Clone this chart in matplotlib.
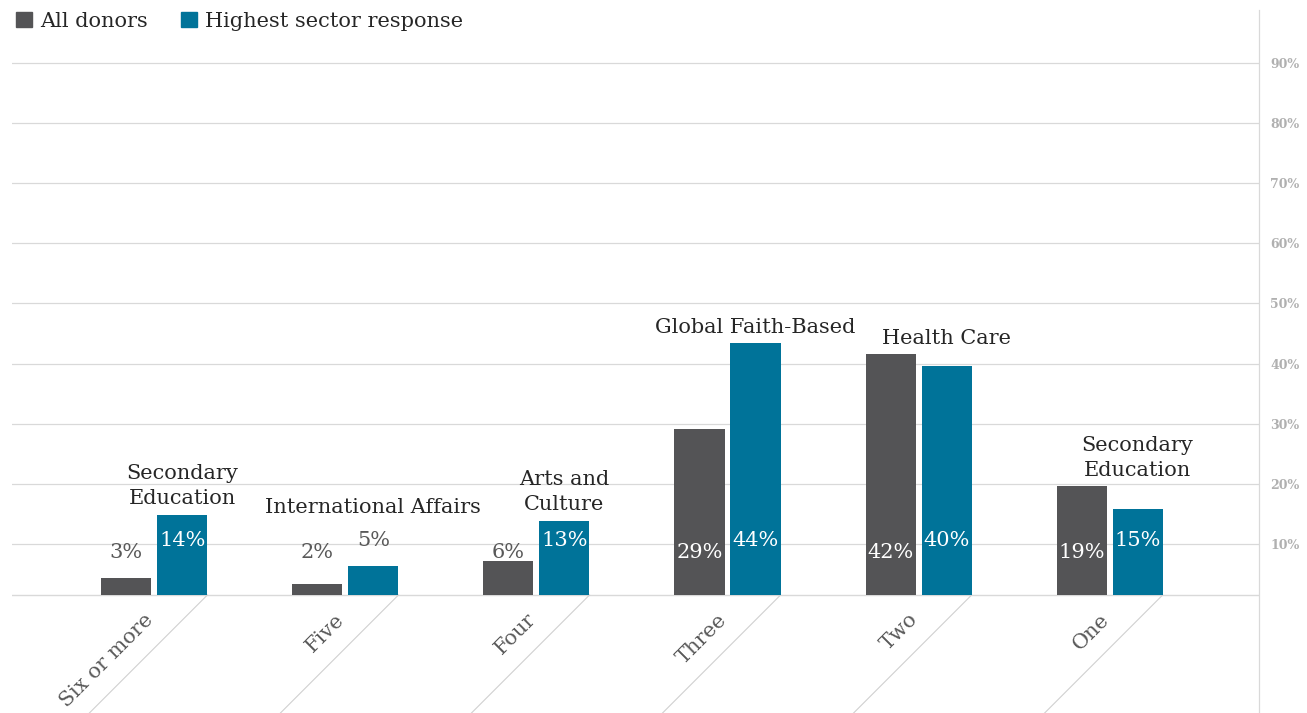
import numpy as np
import matplotlib
matplotlib.use("Agg")
import matplotlib.pyplot as plt
from matplotlib.patches import Patch

plt.rcParams['font.family'] = ['DejaVu Serif']

categories = ["Six or more", "Five", "Four", "Three", "Two", "One"]
all_donors = [3, 2, 6, 29, 42, 19]
highest_sector = [14, 5, 13, 44, 40, 15]
sectors = ["Secondary\nEducation", "International Affairs", "Arts and\nCulture",
           "Global Faith-Based", "Health Care", "Secondary\nEducation"]
grid_ticks = [10, 20, 30, 40, 50, 60, 70, 80, 90]

gray = "#545456"
blue = "#007399"
grid_col = "#d9d9d9"

fig = plt.figure(figsize=(13.07, 7.13), dpi=100)
ax = fig.add_axes([12 / 1307, 0, 1247 / 1307, 703 / 713])
ax2 = ax.twinx()

x = np.arange(len(categories))
w = 0.262
off = 0.1466

ax.set_xlim(-0.745, 5.782)
ax.set_ylim(-20.59, 102.09)
ax2.set_ylim(-18.02, 98.75)

# percent scale on the right with its gridlines
ax2.set_yticks(grid_ticks)
ax2.set_yticklabels([f"{t}%" for t in grid_ticks])
ax2.tick_params(axis='y', length=0, pad=8, labelsize=9, labelcolor="#b0b0b0")
for lab in ax2.get_yticklabels():
    lab.set_fontweight('bold')
for t in grid_ticks:
    ax2.axhline(t, color=grid_col, lw=0.9, zorder=0)
for s in ["top", "left", "bottom"]:
    ax2.spines[s].set_visible(False)
ax2.spines["right"].set_color(grid_col)
ax2.spines["right"].set_linewidth(0.9)

ax.set_zorder(ax2.get_zorder() + 1)
ax.patch.set_visible(False)
for s in ax.spines.values():
    s.set_visible(False)
ax.set_xticks([])
ax.set_yticks([])
ax.axhline(0, color=grid_col, lw=1.0, zorder=1)

ax.bar(x - off, all_donors, w, color=gray, zorder=2)
ax.bar(x + off, highest_sector, w, color=blue, zorder=2)

# value labels sit at a fixed height for each series
for xi, v in zip(x, all_donors):
    ypos = 7.5
    col = "white" if v > ypos + 2 else "#595959"
    ax.text(xi - off, ypos, f"{v}%", ha='center', va='center', fontsize=15, color=col, zorder=3)
for xi, v in zip(x, highest_sector):
    ypos = 9.6
    col = "white" if v > ypos + 2 else "#595959"
    ax.text(xi + off, ypos, f"{v}%", ha='center', va='center', fontsize=15, color=col, zorder=3)

# sector names above each pair
for xi, g, b, name in zip(x, all_donors, highest_sector, sectors):
    top = max(g, b, 12.5) + 1.8
    ax.text(xi + off, top, name, ha='center', va='baseline', fontsize=15,
            color="#262626", linespacing=1.42, zorder=3)

# slanted separators and category names below the baseline
fig.canvas.draw()
inv = ax.transData.inverted()
for xi, name in zip(x, categories):
    p0 = ax.transData.transform((xi + off + w / 2, 0))
    p1 = p0 - p0[1]
    d0 = inv.transform(p0)
    d1 = inv.transform(p1)
    ax.plot([d0[0], d1[0]], [d0[1], d1[1]], color="#d0d0d0", lw=0.8, zorder=1, clip_on=False)
    ax.annotate(name, xy=(xi, 0), xytext=(3, -15), textcoords='offset pixels',
                rotation=45, ha='right', va='top', fontsize=15, color="#595959")

handles = [Patch(color=gray, label="All donors"), Patch(color=blue, label="Highest sector response")]
fig.legend(handles=handles, loc='upper left', bbox_to_anchor=(0.006, 0.995), ncol=2,
           frameon=False, fontsize=15, handlelength=0.75, handleheight=0.75,
           handletextpad=0.4, columnspacing=1.6, borderaxespad=0, labelcolor="#262626")

fig.savefig("out.png", dpi=100)
